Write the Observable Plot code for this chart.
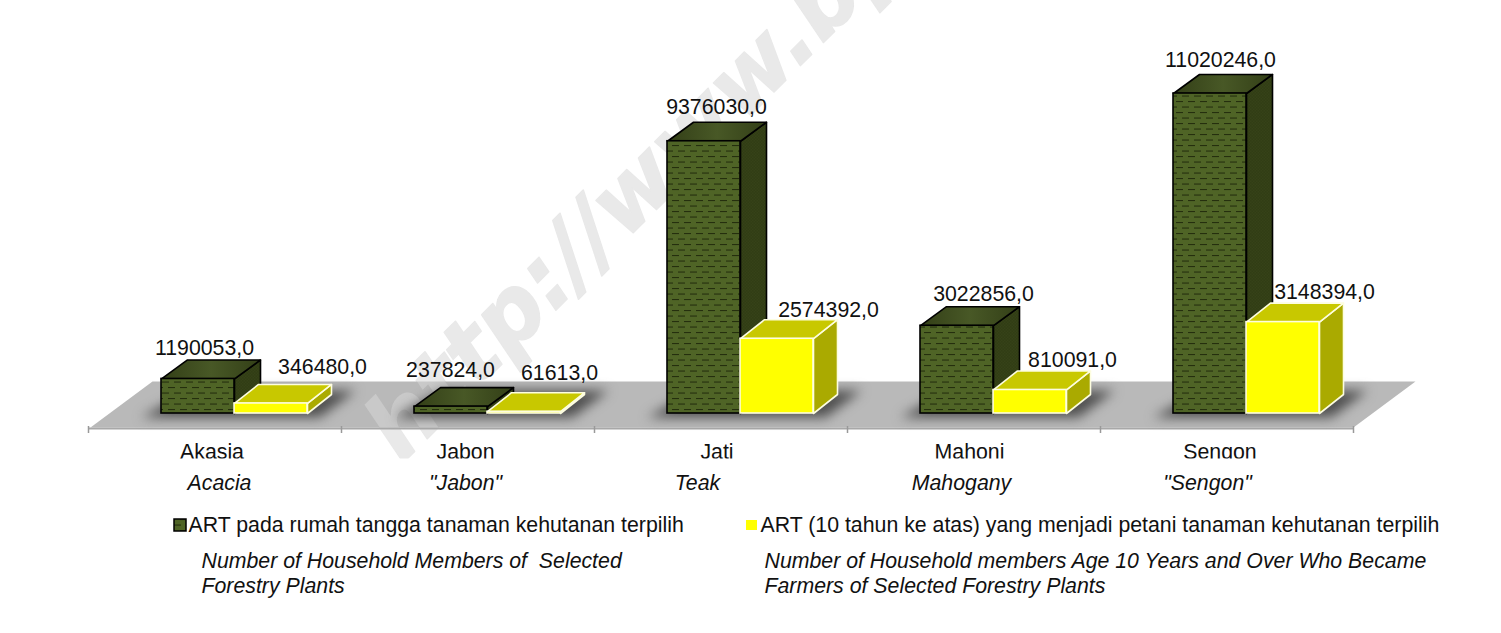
<!DOCTYPE html>
<html><head><meta charset="utf-8">
<script src="https://cdn.jsdelivr.net/npm/d3@7"></script>
<script src="https://cdn.jsdelivr.net/npm/@observablehq/plot@0.6"></script>
<style>html,body{margin:0;padding:0;background:#fff}svg{display:block}</style>
</head><body><div id="chart"></div>
<script>
const categories = ["Akasia","Jabon","Jati","Mahoni","Sengon"];
const categoriesEn = ["Acacia","\"Jabon\"","Teak","Mahogany","\"Sengon\""];
const members = [1190053,237824,9376030,3022856,11020246];
const farmers = [346480,61613,2574392,810091,3148394];
const seriesId = ["ART pada rumah tangga tanaman kehutanan terpilih","ART (10 tahun ke atas) yang menjadi petani tanaman kehutanan terpilih"];
const seriesEn1 = ["Number of Household Members of  Selected","Forestry Plants"];
const seriesEn2 = ["Number of Household members Age 10 Years and Over Who Became","Farmers of Selected Forestry Plants"];
const watermark = "http://www.bps.go.id";

// layout (pixels), converted to scale units below
const W=1501,H=633,left=88,step=253,base=413,top0=93,maxV=11020246;
const X=p=>(p-left)/step, Y=p=>(base-p)/(base-top0)*maxV;
const barW=73/step, gap=73/step, dY=19/(base-top0)*maxV;
const memberLabelPos=[[204,348],[450,370],[716,107],[983,294],[1220,60]];
const farmerLabelPos=[[322,367],[559,373],[828,310],[1072,360],[1324,292]];
const catLabelX=[211.5,465,716.5,969,1219.5];
const catEnX=[219,465,697,961,1207];
const fs=21.3;

function faces(values,offset,dX){
  const side=[],topf=[],front=[];
  values.forEach((v,i)=>{
    const a=i+gap+offset*barW,b=a+barW;
    front.push({x1:a,x2:b,y1:0,y2:v});
    [[b,0],[b+dX,dY],[b+dX,v+dY],[b,v],[b,0]].forEach(([x,y])=>side.push({id:i,x,y}));
    [[a,v],[a+dX,v+dY],[b+dX,v+dY],[b,v],[a,v]].forEach(([x,y])=>topf.push({id:i,x,y}));
  });
  return {side,topf,front};
}
const m=faces(members,0,26/step), f=faces(farmers,1,24/step);
const poly=(pts,id=0)=>pts.map(([x,y])=>({id,x:X(x),y:Y(y)}));
const floor=poly([[90,427],[152,381],[1415,381],[1353,427],[90,427]]);
const shadows=categories.flatMap((c,i)=>{
  const s=left+step*i+gap*step;
  return poly([[s-20,417],[s+28,390],[s+194,390],[s+158,417]],i);
});
const polyMark=(rows,o)=>Plot.line(rows,{x:"x",y:"y",z:"id",...o});
const wm=o=>Plot.text([watermark],{x:()=>X(401),y:()=>Y(464),text:d=>d,rotate:-45,textAnchor:"start",lineAnchor:"bottom",
  fontFamily:"'DejaVu Sans'",fontSize:90,fontWeight:"bold",fontStyle:"italic",strokeWidth:1.5,...o});
const txt=(rows,o)=>Plot.text(rows,{fill:"#111",fontSize:fs,textAnchor:"middle",...o});

const defs=()=>{
  const ns="http://www.w3.org/2000/svg";
  const s=document.createElementNS(ns,"defs");
  s.innerHTML=`
  <pattern id="frontP" patternUnits="userSpaceOnUse" width="12" height="11">
    <rect width="12" height="11" fill="#4f6426"/>
    <rect x="0" y="2" width="7" height="1.1" fill="#252f0e"/>
    <rect x="6" y="7.5" width="6" height="1.1" fill="#252f0e"/>
    <rect x="0" y="7.5" width="1" height="1.1" fill="#252f0e"/>
  </pattern>
  <pattern id="sideP" patternUnits="userSpaceOnUse" width="3" height="3">
    <rect width="3" height="3" fill="#3d4b1c"/>
    <rect width="1.5" height="1.5" fill="#29330f"/>
    <rect x="1.5" y="1.5" width="1.5" height="1.5" fill="#29330f"/>
  </pattern>
  <linearGradient id="topG" x1="0" x2="1" y1="0" y2="0">
    <stop offset="0" stop-color="#333f17"/><stop offset="0.5" stop-color="#485826"/><stop offset="1" stop-color="#333f17"/>
  </linearGradient>`;
  return s;
};

const chart=Plot.plot({
  width:W,height:H,margin:0,
  style:{fontFamily:"'Liberation Sans',Arial,sans-serif",background:"#fff",overflow:"hidden"},
  x:{domain:[0,5],range:[left,left+5*step],axis:null},
  y:{domain:[0,maxV],range:[base,top0],axis:null},
  marks:[
    defs,
    wm({fill:"#e9e9e9",stroke:"#e9e9e9"}),
    polyMark(floor,{fill:"#b9b9b9"}),
    wm({fill:"#e9e9e9",fillOpacity:0.33}),
    Plot.ruleY([Y(428)],{x1:0,x2:5,stroke:"#a8a8a8",strokeWidth:2}),
    Plot.ruleX(d3.range(6),{y1:Y(426),y2:Y(433),stroke:"#999",strokeWidth:1.5}),
    polyMark(shadows,{fill:"#505050",imageFilter:"blur(6px)"}),
    polyMark(m.side,{fill:"url(#sideP)",stroke:"#000",strokeWidth:1.6}),
    polyMark(m.topf,{fill:"url(#topG)",stroke:"#000",strokeWidth:1.6}),
    Plot.rect(m.front,{x1:"x1",x2:"x2",y1:"y1",y2:"y2",fill:"url(#frontP)",stroke:"#000",strokeWidth:1.6}),
    polyMark(f.side,{fill:"#aaaa00",stroke:"#fdfde0",strokeWidth:1.6}),
    polyMark(f.topf,{fill:"#c8c800",stroke:"#fdfde0",strokeWidth:1.6}),
    Plot.rect(f.front,{x1:"x1",x2:"x2",y1:"y1",y2:"y2",fill:"#ffff00",stroke:"#fdfde0",strokeWidth:1.6}),
    txt(members,{x:(d,i)=>X(memberLabelPos[i][0]),y:(d,i)=>Y(memberLabelPos[i][1]),text:d=>d+",0"}),
    txt(farmers,{x:(d,i)=>X(farmerLabelPos[i][0]),y:(d,i)=>Y(farmerLabelPos[i][1]),text:d=>d+",0"}),
    txt(categories,{x:(d,i)=>X(catLabelX[i]),y:()=>Y(452),text:d=>d}),
    Plot.rect([0],{x1:()=>X(100),x2:()=>X(1400),y1:()=>Y(458.5),y2:()=>Y(468),fill:"#fff"}),
    txt(categoriesEn,{x:(d,i)=>X(catEnX[i]),y:()=>Y(483),text:d=>d,fontStyle:"italic"}),
    Plot.rect([0],{x1:()=>X(174),x2:()=>X(186),y1:()=>Y(531),y2:()=>Y(519),fill:"url(#frontP)",stroke:"#000",strokeWidth:1.5}),
    Plot.rect([0],{x1:()=>X(746),x2:()=>X(757),y1:()=>Y(530),y2:()=>Y(520),fill:"#ffff00"}),
    txt([seriesId[0]],{x:()=>X(188),y:()=>Y(525),text:d=>d,textAnchor:"start"}),
    txt([seriesId[1]],{x:()=>X(760),y:()=>Y(525),text:d=>d,textAnchor:"start"}),
    txt(seriesEn1,{x:()=>X(201),y:(d,i)=>Y(561+i*25),text:d=>d,textAnchor:"start",fontStyle:"italic"}),
    txt(seriesEn2,{x:()=>X(764),y:(d,i)=>Y(561+i*25),text:d=>d,textAnchor:"start",fontStyle:"italic"})
  ]
});
document.getElementById("chart").append(chart);
</script></body></html>
